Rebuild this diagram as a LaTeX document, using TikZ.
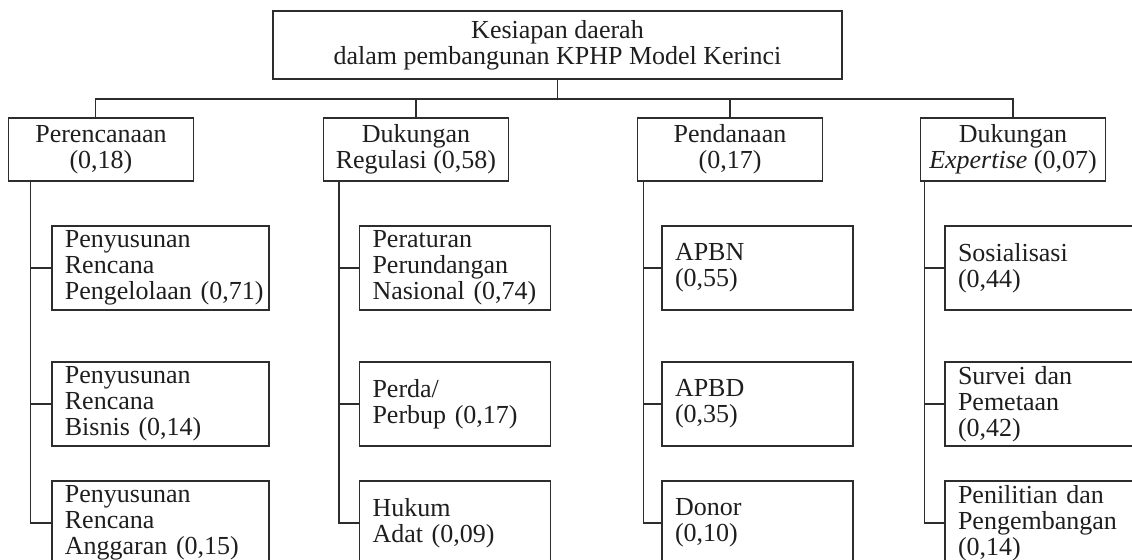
\documentclass[tikz,border=0pt]{standalone}
\usepackage{fontspec}
\setmainfont{Liberation Serif}
\usetikzlibrary{positioning}
\definecolor{linecol}{RGB}{45,45,45}
\definecolor{textcol}{RGB}{30,30,30}

\begin{document}
\begin{tikzpicture}[
    x=0.5pt, y=-0.5pt,
    every node/.style={
        font=\fontsize{13pt}{13pt}\selectfont,
        text=textcol
    },
    rootbox/.style={
        rectangle,
        draw=linecol,
        line width=0.7pt,
        minimum width=284.5pt,
        minimum height=34pt,
        align=center,
        inner sep=0pt
    },
    mainbox/.style={
        rectangle,
        draw=linecol,
        line width=0.7pt,
        minimum width=92.5pt,
        minimum height=31.5pt,
        align=center,
        inner sep=0pt
    },
    subbox/.style={
        rectangle,
        draw=linecol,
        line width=0.7pt,
        text width=#1,
        align=left,
        inner xsep=6.5pt,
        inner ysep=0pt,
        minimum height=42pt
    },
    subbox/.default=82.5pt,
    link/.style={
        draw=linecol,
        line width=0.8pt
    }
]

\clip (0,0) rectangle (1132,560);

% Goal
\node[rootbox] (root) at (557.5, 45) {
    Kesiapan daerah\\
    dalam pembangunan KPHP Model Kerinci
};

% Criteria
\node[mainbox] (plan) at (101, 149.5) {Perencanaan\\(0,18)};
\node[mainbox] (reg)  at (416, 149.5) {Dukungan\\Regulasi (0,58)};
\node[mainbox] (fund) at (730, 149.5) {Pendanaan\\(0,17)};
\node[mainbox] (exp)  at (1013, 149.5) {Dukungan\\\textit{Expertise} (0,07)};

% Sub-criteria: Perencanaan
\node[subbox=95.5pt] (p1) at (160.4, 268) {Penyusunan\\Rencana\\Pengelolaan~(0,71)};
\node[subbox=95.5pt] (p2) at (160.4, 404) {Penyusunan\\Rencana\\Bisnis~(0,14)};
\node[subbox=95.5pt] (p3) at (160.4, 523) {Penyusunan\\Rencana\\Anggaran~(0,15)};

% Sub-criteria: Dukungan Regulasi
\node[subbox] (r1) at (455, 268) {Peraturan\\Perundangan\\Nasional~(0,74)};
\node[subbox] (r2) at (455, 404) {Perda/\\Perbup~(0,17)};
\node[subbox] (r3) at (455, 523) {Hukum\\Adat~(0,09)};

% Sub-criteria: Pendanaan
\node[subbox] (f1) at (757.5, 268) {APBN\\(0,55)};
\node[subbox] (f2) at (757.5, 404) {APBD\\(0,35)};
\node[subbox] (f3) at (757.5, 523) {Donor\\(0,10)};

% Sub-criteria: Dukungan Expertise
\node[subbox] (e1) at (1040.5, 268) {Sosialisasi\\(0,44)};
\node[subbox] (e2) at (1040.5, 404) {Survei~dan\\Pemetaan\\(0,42)};
\node[subbox] (e3) at (1040.5, 523) {Penilitian~dan\\Pengembangan\\(0,14)};

% Goal to criteria
\coordinate (bus) at (557.5, 99);
\coordinate (planTop) at ([xshift=-2.7pt]plan.north);
\draw[link] (root.south) -- (bus);
\draw[link] (planTop) |- (exp.north |- bus) -- (exp.north);
\foreach \n in {reg, fund}
    \draw[link] (\n.north) -- (\n.north |- bus);

% Criteria to sub-criteria
\foreach \p/\a/\b/\c/\d in {plan/p1/p2/p3/10.3pt, reg/r1/r2/r3/10pt,
                            fund/f1/f2/f3/9pt, exp/e1/e2/e3/10pt} {
    \coordinate (s\p) at ([xshift=-\d]\a.west);
    \draw[link] (s\p |- \p.south) |- (\c.west);
    \draw[link] (s\p |- \b.west) -- (\b.west);
    \draw[link] (s\p) -- (\a.west);
}

\end{tikzpicture}
\end{document}
